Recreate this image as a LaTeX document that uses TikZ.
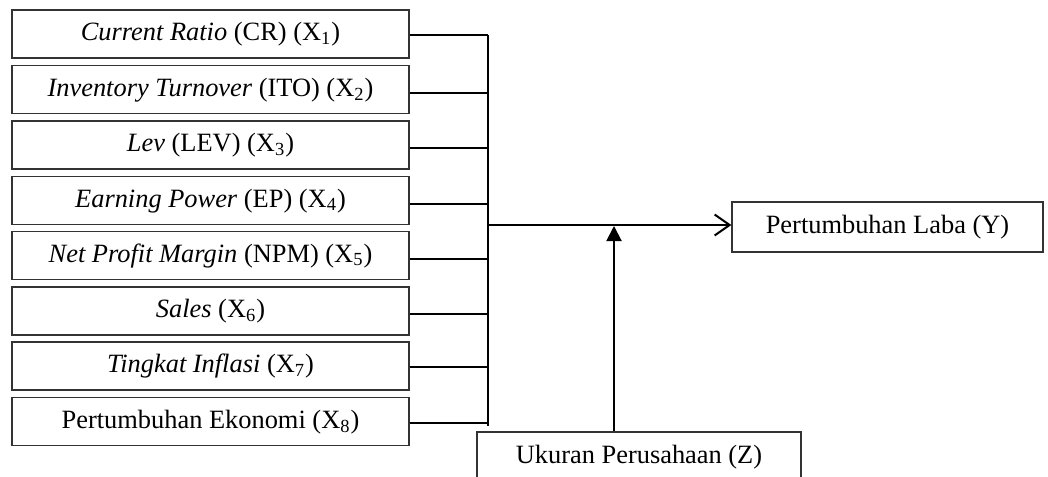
\documentclass[tikz,border=0pt]{standalone}
\usepackage{fontspec}
\setmainfont{Liberation Serif}
\usetikzlibrary{arrows.meta}
\tikzset{
  box/.style={draw=black!80, line width=0.65pt, fill=white, inner sep=0pt,
    font=\fontsize{13.2pt}{15pt}\selectfont, text height=0.9em, text depth=0.24em,
    minimum width=198.5pt, minimum height=24pt, anchor=center},
  conn/.style={draw=black, line width=1pt},
  openarrow/.style={conn, -{Straight Barb[length=7.5pt,width=10.5pt,line width=1pt]}},
  filledarrow/.style={conn, -{Triangle[length=7.5pt,width=7.5pt]}}
}
\begin{document}
\begin{tikzpicture}[x=0.5pt,y=-0.5pt]
\useasboundingbox (0,0) rectangle (1048,476);
\clip (0,0) rectangle (1048,476);
\node[box] (b1) at (210.5,34) {\textit{Current Ratio} (CR) (X\textsubscript{1})};
\node[box] (b2) at (210.5,89.5) {\textit{Inventory Turnover} (ITO) (X\textsubscript{2})};
\node[box] (b3) at (210.5,145) {\textit{Lev} (LEV) (X\textsubscript{3})};
\node[box] (b4) at (210.5,200.5) {\textit{Earning Power} (EP) (X\textsubscript{4})};
\node[box] (b5) at (210.5,255.5) {\textit{Net Profit Margin} (NPM) (X\textsubscript{5})};
\node[box] (b6) at (210.5,311) {\textit{Sales} (X\textsubscript{6})};
\node[box] (b7) at (210.5,366) {\textit{Tingkat Inflasi} (X\textsubscript{7})};
\node[box] (b8) at (210.5,421.5) {Pertumbuhan Ekonomi (X\textsubscript{8})};
\node[box, minimum width=155.5pt, minimum height=25pt] (y) at (887.5,227) {Pertumbuhan Laba (Y)};
\node[box, minimum width=162pt, minimum height=25pt] (z) at (639,457) {Ukuran Perusahaan (Z)};
\coordinate (j) at (488,225);
\coordinate (m) at (614,226);
\foreach \i/\d in {1/1,2/4,3/3,4/3,5/3,6/3,7/1,8/1} {
  \draw[conn] ([yshift=-\d*0.5pt]b\i.east) -- ([yshift=-\d*0.5pt]b\i.east -| j);
}
\draw[conn] ([yshift=-0.5pt]b1.east -| j) -- ([yshift=-2pt]b8.east -| j);
\draw[openarrow] (j) -- (j -| y.west);
\draw[filledarrow] (z.north -| m) -- (m);
\end{tikzpicture}
\end{document}
